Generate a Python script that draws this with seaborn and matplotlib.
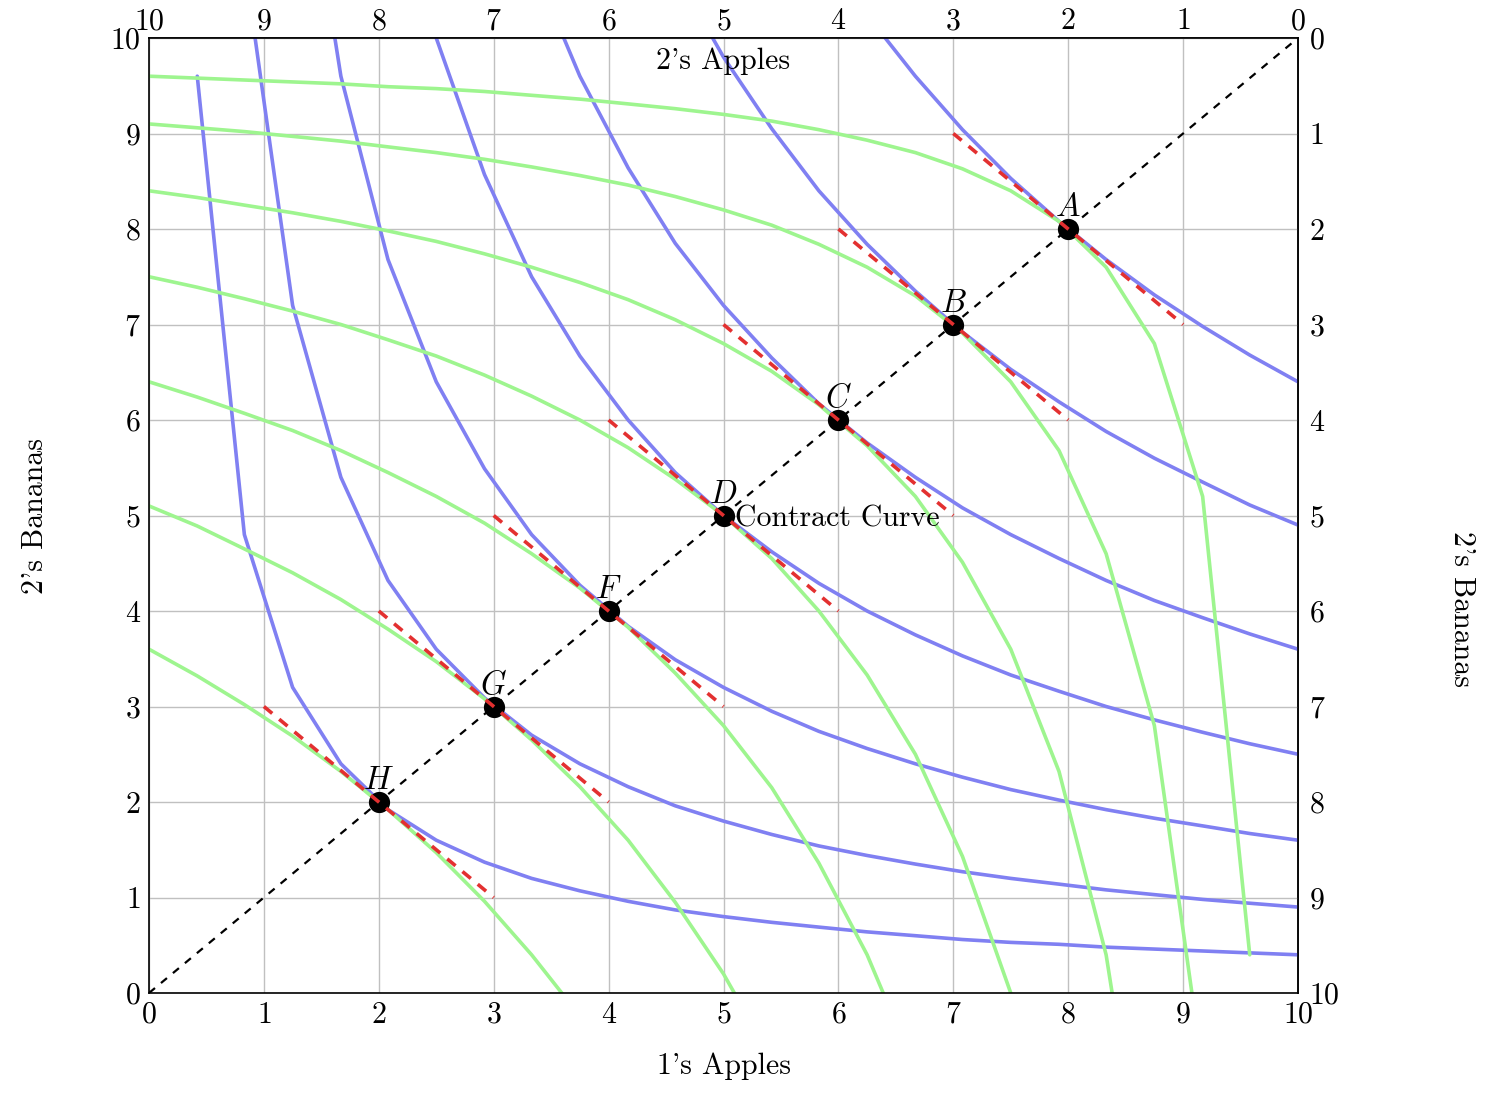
import numpy as np
import matplotlib.pyplot as plt
import seaborn as sns

nan = np.nan

# person 1's apples at the curve vertices
apples = [0.42, 0.83, 1.25, 1.67, 2.08, 2.5, 2.92, 3.33, 3.75, 4.17, 4.58, 5.0,
          5.42, 5.83, 6.25, 6.67, 7.08, 7.5, 7.92, 8.33, 8.75, 9.17, 9.58, 10.0]
# person 1's indifference curves (bananas at each vertex), nan = off the top of the box
ic_h = [9.6, 4.8, 3.2, 2.4, 1.92, 1.6, 1.37, 1.2, 1.07, 0.96, 0.87, 0.8,
        0.74, 0.69, 0.64, 0.6, 0.56, 0.53, 0.51, 0.48, 0.46, 0.44, 0.42, 0.4]
ic_g = [nan, 10.8, 7.2, 5.4, 4.32, 3.6, 3.09, 2.7, 2.4, 2.16, 1.96, 1.8,
        1.66, 1.54, 1.44, 1.35, 1.27, 1.2, 1.14, 1.08, 1.03, 0.98, 0.94, 0.9]
ic_f = [nan, nan, 12.8, 9.6, 7.68, 6.4, 5.49, 4.8, 4.27, 3.84, 3.49, 3.2,
        2.95, 2.74, 2.56, 2.4, 2.26, 2.13, 2.02, 1.92, 1.83, 1.75, 1.67, 1.6]
ic_d = [nan, nan, nan, nan, nan, 10.0, 8.57, 7.5, 6.67, 6.0, 5.45, 5.0,
        4.62, 4.29, 4.0, 3.75, 3.53, 3.33, 3.16, 3.0, 2.86, 2.73, 2.61, 2.5]
ic_c = [nan, nan, nan, nan, nan, nan, nan, 10.8, 9.6, 8.64, 7.85, 7.2,
        6.65, 6.17, 5.76, 5.4, 5.08, 4.8, 4.55, 4.32, 4.11, 3.93, 3.76, 3.6]
ic_b = [nan, nan, nan, nan, nan, nan, nan, nan, nan, nan, 10.69, 9.8,
        9.05, 8.4, 7.84, 7.35, 6.92, 6.53, 6.19, 5.88, 5.6, 5.35, 5.11, 4.9]
ic_a = [nan, nan, nan, nan, nan, nan, nan, nan, nan, nan, nan, nan,
        nan, nan, 10.24, 9.6, 9.04, 8.53, 8.08, 7.68, 7.31, 6.98, 6.68, 6.4]
curves = [ic_h, ic_g, ic_f, ic_d, ic_c, ic_b, ic_a]

# points on the contract curve
pt_x = [8, 7, 6, 5, 4, 3, 2]
pt_y = [8, 7, 6, 5, 4, 3, 2]
pt_names = ["A", "B", "C", "D", "F", "G", "H"]
ticks = [0, 1, 2, 3, 4, 5, 6, 7, 8, 9, 10]
ticks_rev = [10, 9, 8, 7, 6, 5, 4, 3, 2, 1, 0]
box = 10  # total apples = total bananas

sns.set_theme(style="white")
plt.rcParams['font.family'] = ['cmr10', 'DejaVu Serif']
plt.rcParams['mathtext.fontset'] = 'cm'
plt.rcParams['axes.formatter.use_mathtext'] = True
plt.rcParams['text.color'] = 'black'
plt.rcParams['axes.labelcolor'] = 'black'
plt.rcParams['xtick.color'] = 'black'
plt.rcParams['ytick.color'] = 'black'

blue = "#8080f2"
green = "#9ef58f"
red = "#e33030"
fs = 21.5

fig = plt.figure(figsize=(15.08, 11.12), dpi=100)
ax = fig.add_axes([149 / 1508, 1 - 993 / 1112, (1298 - 149) / 1508, (993 - 38) / 1112])

x1 = np.array(apples)
for c in curves:
    sns.lineplot(x=x1, y=np.array(c), ax=ax, color=blue, lw=2.6, sort=False, estimator=None)
# person 2's curves are the same shape measured from the top-right corner of the box
for c in curves:
    sns.lineplot(x=box - x1, y=box - np.array(c), ax=ax, color=green, lw=2.6,
                 sort=False, estimator=None)

# contract curve
ax.plot([0, box], [0, box], color="black", ls=(0, (3.5, 3.5)), lw=1.6, zorder=3)
ax.text(5.1, 4.97, "Contract Curve", fontsize=fs, va="center", ha="left", zorder=6)

sns.scatterplot(x=pt_x, y=pt_y, ax=ax, color="black", s=200, zorder=4, edgecolor="black")
for px, py, name in zip(pt_x, pt_y, pt_names):
    ax.plot([px - 1, px + 1], [py + 1, py - 1], color=red, ls=(0, (3, 2.5)), lw=2.6, zorder=5)
    ax.text(px, py + 0.07, f"${name}$", fontsize=fs + 2, ha="center", va="bottom", zorder=6)

ax.set_xlim(0, box)
ax.set_ylim(0, box)
ax.set_xticks(ticks)
ax.set_yticks(ticks)
ax.grid(True, color="#c0c0c0", lw=1)
ax.tick_params(direction="in", length=4, color="#a0a0a0", labelsize=fs, pad=6)
for s in ax.spines.values():
    s.set_color("black")
    s.set_linewidth(1.2)
ax.set_xlabel("1's Apples", fontsize=fs)
ax.xaxis.set_label_coords(0.5, -0.062)
ax.set_ylabel("2's Bananas", fontsize=fs)
ax.yaxis.set_label_coords(-0.087, 0.5)
ax.text(5, 9.76, "2's Apples", fontsize=fs, ha="center", va="center")

top = ax.secondary_xaxis("top", functions=(lambda v: box - v, lambda v: box - v))
top.set_xticks(ticks_rev)
top.tick_params(direction="in", length=0, labelsize=fs, pad=2)
right = ax.secondary_yaxis("right", functions=(lambda v: box - v, lambda v: box - v))
right.set_yticks(ticks_rev)
right.tick_params(direction="in", length=0, labelsize=fs, pad=8)
# label for the right axis, placed like the pgfplots one
ax.text(1.1425, 0.402, "2's Bananas", fontsize=fs, rotation=-90, ha="center", va="center",
        transform=ax.transAxes)

fig.savefig("out.png", dpi=100)
